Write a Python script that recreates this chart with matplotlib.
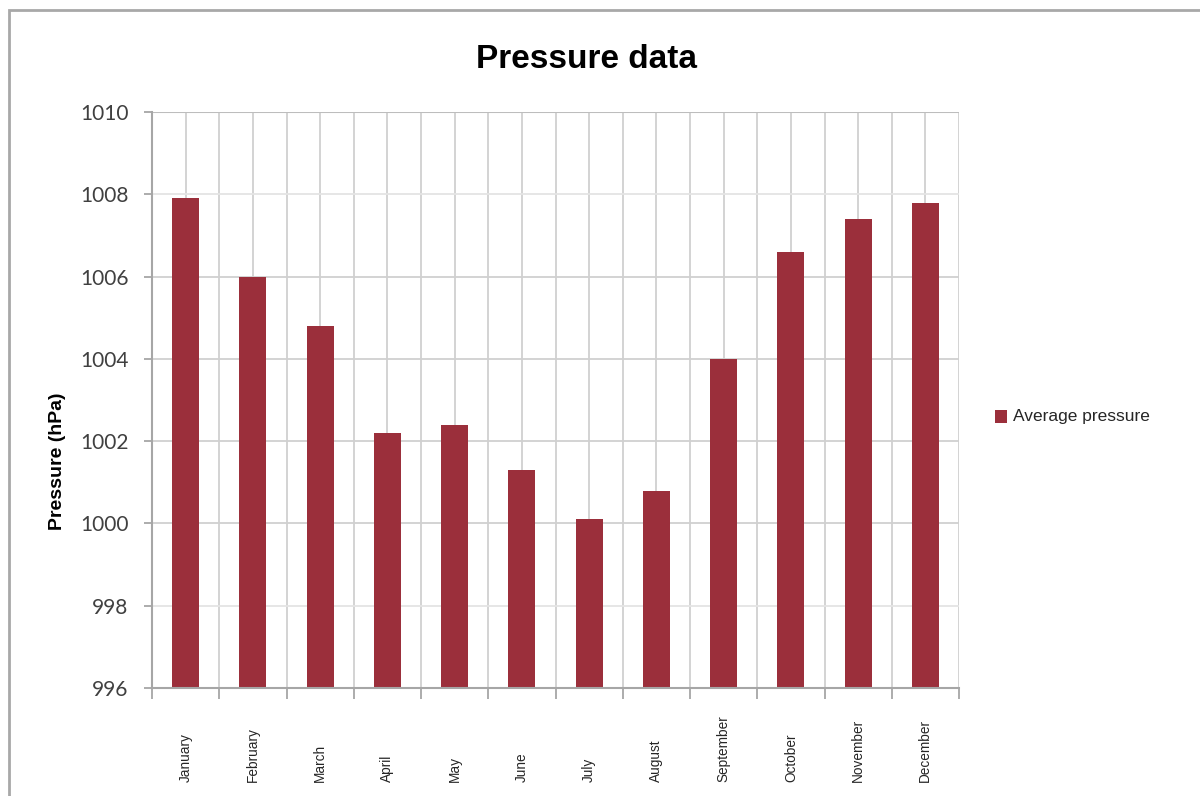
import matplotlib
matplotlib.use("Agg")
import matplotlib.pyplot as plt
from matplotlib.patches import Rectangle
import matplotlib.transforms as mtransforms

months = ["January", "February", "March", "April", "May", "June", "July",
          "August", "September", "October", "November", "December"]
pressure = [1007.9, 1006.0, 1004.8, 1002.2, 1002.4, 1001.3, 1000.1,
            1000.8, 1004.0, 1006.6, 1007.4, 1007.8]
series_name = "Average pressure"
title = "Pressure data"
ylabel = "Pressure (hPa)"
y_min, y_max, y_step = 996, 1010, 2

base = "Liberation Sans"
bar_color = "#9b2f3b"
grid_color = "#d0d0d0"
axis_color = "#a6a6a6"

fig = plt.figure(figsize=(12, 7.96), dpi=100)
fig.patch.set_facecolor("white")

# outer frame (left & top visible)
fig.patches.append(Rectangle((9/1200, -0.1), 1.2, 1 - 10/796 + 0.1, transform=fig.transFigure,
                             fill=False, edgecolor="#a8a8a8", linewidth=2))

ax = fig.add_axes([152/1200, 1 - 688/796, (959 - 152)/1200, (688 - 112)/796])
x = list(range(len(months)))
ax.bar(x, [p - y_min for p in pressure], bottom=y_min, width=0.40, color=bar_color,
       zorder=3, label=series_name)

ax.set_xlim(-0.5, len(months) - 0.5)
ax.set_ylim(y_min, y_max)

# grids: vertical at category boundaries and centres, horizontal at major ticks
for v in [i * 0.5 - 0.5 for i in range(2 * len(months) + 1)]:
    ax.axvline(v, color=grid_color, linewidth=1.3, zorder=1)
for v in range(y_min, y_max + 1, y_step):
    c = "#e4e4e4" if v in (998, 1008) else grid_color
    ax.axhline(v, color=c, linewidth=1.3, zorder=1)
ax.axhline(y_max, color="#bdbdbd", linewidth=1.5, zorder=1)

for s in ["top", "right"]:
    ax.spines[s].set_visible(False)
for s in ["left", "bottom"]:
    ax.spines[s].set_color(axis_color)
    ax.spines[s].set_linewidth(1.5)
    ax.spines[s].set_zorder(4)

ax.set_xticks([i - 0.5 for i in range(len(months) + 1)])
ax.set_xticklabels([])
ax.tick_params(axis="x", which="major", length=8, width=1.3, color=axis_color, direction="out")
ax.set_yticks(list(range(y_min, y_max + 1, y_step)))
ax.tick_params(axis="y", which="major", length=6, width=1.3, color=axis_color, direction="out",
               pad=11, labelsize=15, labelcolor="#404040")
for lbl in ax.get_yticklabels():
    lbl.set_family(["Lato", "DejaVu Sans"])

# x labels rotated, bottoms aligned
trans = mtransforms.blended_transform_factory(ax.transData, fig.transFigure)
for i, m in enumerate(months):
    ax.text(i, 1 - 782/796, m, rotation=90, ha="center", va="bottom", transform=trans,
            fontsize=9.8, family=[base, "DejaVu Sans"], color="#262626")

# title
fig.text(586/1200, 1 - 59/796, title, ha="center", va="center", fontsize=24,
         fontweight="bold", family=[base, "DejaVu Sans"], color="black")

# y label
fig.text(58/1200, 1 - 461/796, ylabel, rotation=90, ha="center", va="center",
         fontsize=14, fontweight="bold", family=[base, "DejaVu Sans"], color="black")

# legend
fig.patches.append(Rectangle((995/1200, 1 - 423/796), 12/1200, 13/796, transform=fig.transFigure,
                             facecolor=bar_color, edgecolor="none"))
fig.text(1013/1200, 1 - 417/796, series_name, ha="left", va="center",
         fontsize=12.5, family=[base, "DejaVu Sans"], color="#262626")

fig.savefig("out.png", dpi=100, facecolor="white")
